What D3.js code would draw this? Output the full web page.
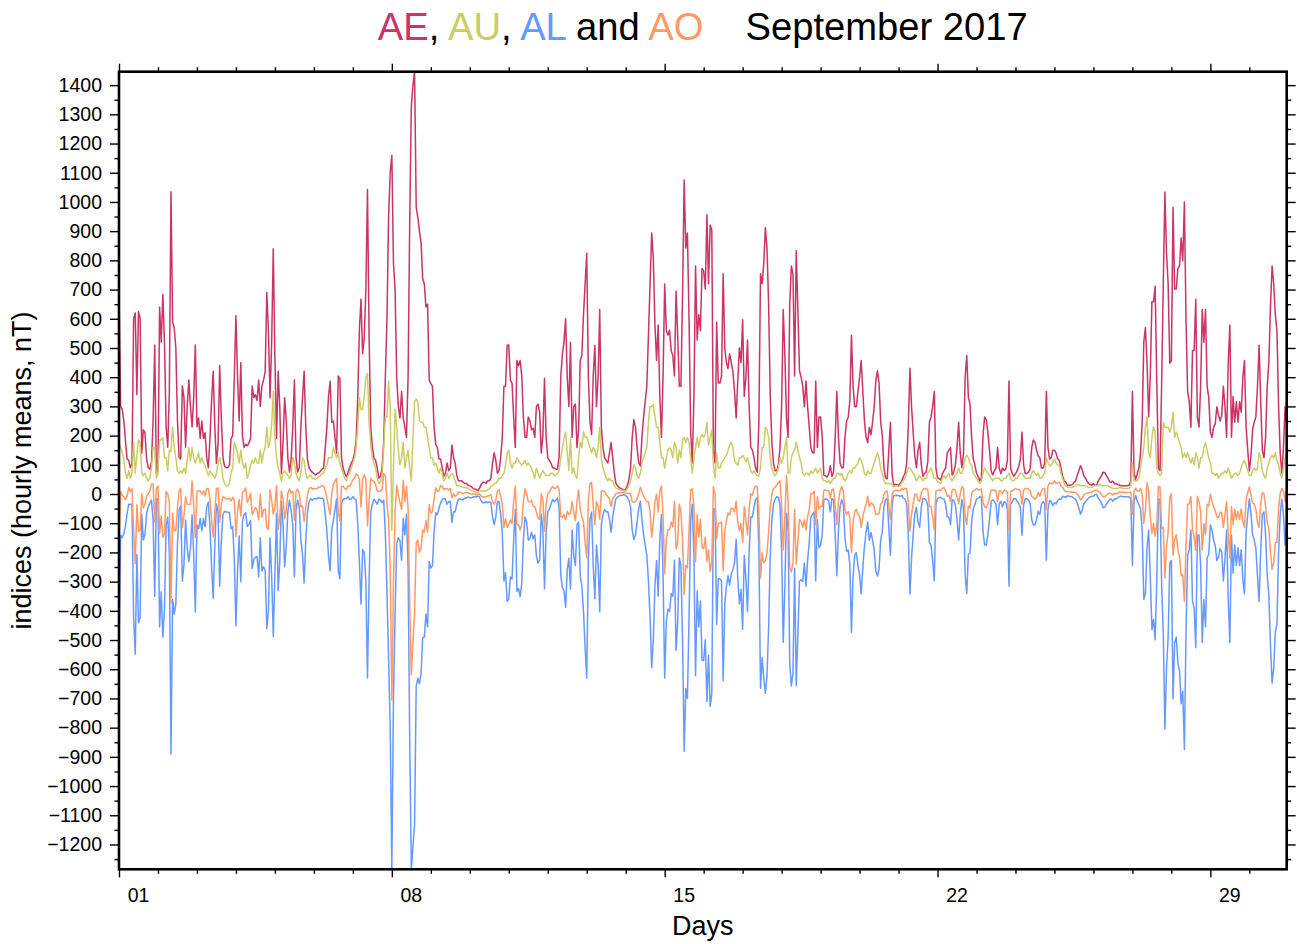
<!DOCTYPE html>
<html>
<head>
<meta charset="utf-8">
<script src="https://cdn.jsdelivr.net/npm/d3@7"></script>
<style>
  body { margin: 0; background: #fff; }
  svg { display: block; font-family: "Liberation Sans", Arial, Helvetica, sans-serif; }
</style>
</head>
<body>
<svg></svg>
<script>
// hourly means, 1 Sept 2017 00h .. 30 Sept 23h, one line per day (nT)
const ae = [
  690,300,290,250,180,120,115,90,105,600,620,340,625,600,140,220,210,120,90,85,110,250,510,70,
  89,640,520,684,520,230,160,350,1035,590,570,500,250,125,120,370,330,160,300,390,300,230,330,510,
  230,260,190,250,190,210,125,90,190,320,420,230,105,170,440,260,125,95,90,90,100,190,200,400,
  610,400,250,450,200,160,170,165,175,190,370,330,340,320,390,300,370,390,420,690,560,330,520,840,
  470,190,420,300,70,175,330,250,120,75,120,230,390,125,75,90,230,330,420,230,120,90,80,75,
  70,65,70,72,78,85,89,159,229,334,387,246,250,194,140,404,396,124,89,70,60,72,90,106,
  115,140,180,330,560,667,480,534,700,1043,544,229,159,124,115,89,54,60,90,180,400,600,950,1100,
  1160,790,700,400,300,260,351,260,230,194,400,930,1330,1400,1446,982,947,900,860,737,719,640,650,390,
  378,369,229,170,160,120,120,90,60,71,106,80,89,168,124,106,63,45,45,45,40,36,36,30,
  28,25,20,17,15,12,20,33,40,40,36,45,45,54,106,141,115,71,80,124,194,369,369,509,
  510,390,380,264,159,457,439,457,404,264,194,194,264,250,220,225,194,299,308,280,140,200,396,194,
  124,115,105,90,89,85,85,130,400,480,520,600,400,300,520,194,299,308,159,220,457,474,614,719,
  824,404,246,203,404,509,299,400,632,229,159,124,115,106,141,176,124,71,36,28,22,19,16,12,
  15,30,50,90,194,255,229,159,106,96,194,264,316,369,544,719,894,807,579,457,579,334,194,404,
  719,561,544,561,491,474,404,694,544,369,369,684,1075,842,894,600,212,106,334,781,527,614,560,772,
  764,702,956,720,921,904,150,106,588,380,380,404,754,500,450,430,480,450,420,351,260,387,500,450,
  597,334,400,527,300,159,150,124,89,75,250,754,720,789,912,842,650,334,176,106,80,80,100,159,
  300,632,474,260,194,650,781,754,404,833,632,422,400,370,299,387,299,229,159,141,141,387,159,264,
  264,194,64,62,58,70,97,60,75,194,351,194,106,90,90,194,250,263,320,544,369,299,299,350,
  400,457,350,250,194,176,229,203,246,299,387,422,380,246,200,90,55,52,150,246,70,30,33,32,
  30,36,45,60,71,106,229,431,300,210,130,90,150,177,100,60,70,75,110,246,264,300,351,89,
  56,52,48,70,80,89,141,150,159,65,75,100,159,246,140,90,140,400,474,330,308,194,120,100,
  71,60,45,55,200,264,255,210,150,80,65,80,89,159,88,70,89,80,85,114,387,89,71,60,
  70,79,95,120,212,100,70,70,75,85,159,185,177,150,130,124,89,89,105,351,159,120,124,150,
  150,140,120,115,89,62,45,40,30,30,30,32,40,45,63,80,97,85,63,55,45,36,32,30,
  36,30,30,45,54,63,75,73,63,54,42,40,44,35,36,32,31,28,29,28,28,28,30,45,
  351,71,50,70,90,140,246,520,570,450,264,404,658,658,711,387,89,80,380,720,1034,824,720,448,
  457,982,702,702,772,781,877,799,1000,600,351,316,229,491,491,667,264,229,369,632,520,632,369,330,
  212,194,229,240,299,270,250,270,369,300,194,450,579,194,334,246,316,246,316,280,400,457,229,150,
  79,130,220,246,264,369,509,316,150,124,194,369,450,640,781,720,614,560,300,140,71,159,299,230
];

const au = [
  177,159,141,115,71,54,80,54,71,177,71,133,185,177,71,63,71,54,45,54,89,159,159,54,
  71,185,185,194,124,124,80,150,145,229,159,124,80,71,80,71,89,71,115,159,115,159,124,106,
  124,141,106,124,106,98,80,63,80,71,63,54,71,106,124,98,54,36,28,28,36,71,89,177,
  159,141,106,150,106,89,106,54,71,98,115,106,124,106,106,150,106,141,159,229,159,180,240,351,
  194,124,89,71,45,71,80,71,63,54,63,124,106,71,54,45,71,124,115,71,54,63,63,54,
  54,50,54,60,63,71,71,89,100,124,124,124,159,141,124,141,106,89,71,54,45,63,71,89,
  106,124,159,229,330,290,290,334,400,413,246,168,124,106,89,54,36,40,60,159,264,264,387,300,
  -125,90,290,230,150,100,124,177,89,124,150,89,45,194,316,325,316,250,246,246,229,229,194,159,
  124,124,98,106,89,71,89,71,45,54,71,54,63,71,63,45,28,28,28,25,22,22,22,20,
  15,12,10,8,5,5,10,10,10,10,10,15,18,25,28,36,36,45,54,54,63,71,100,141,
  150,106,89,106,106,124,115,106,98,106,115,98,106,98,89,71,54,89,71,54,71,80,71,63,
  63,63,71,71,63,63,71,80,124,159,190,212,141,80,194,71,89,63,54,124,177,159,212,194,
  194,177,159,141,159,150,124,159,229,124,89,71,54,45,54,45,45,28,20,18,15,15,12,10,
  10,18,28,45,71,100,89,63,54,71,106,124,141,159,246,299,299,307,264,229,229,177,124,124,
  89,124,150,159,150,124,177,159,106,150,124,185,194,176,194,176,120,71,124,159,194,159,194,203,
  194,203,246,168,194,220,100,54,141,89,89,106,115,124,133,150,168,177,160,115,106,98,124,124,
  133,124,110,124,100,80,71,80,71,62,62,89,159,159,229,220,194,124,89,71,63,71,89,124,
  106,124,159,194,71,71,124,141,150,177,150,124,106,71,63,71,71,63,80,71,80,89,71,80,
  89,54,45,45,40,45,36,45,54,54,71,71,63,71,54,45,54,71,80,71,89,89,98,106,
  124,115,98,71,63,80,71,71,89,106,124,141,124,89,71,45,36,36,36,36,32,25,28,28,
  25,28,40,45,54,71,89,89,80,71,63,45,54,63,54,45,54,54,71,80,89,71,54,54,
  40,40,36,54,63,54,63,71,54,45,54,63,71,89,71,71,89,124,133,124,106,98,71,63,
  54,45,36,45,71,89,80,71,63,54,45,54,54,54,54,45,45,54,54,63,71,54,45,45,
  54,54,63,71,71,63,54,54,54,54,71,80,71,63,71,54,54,63,71,124,106,98,98,110,
  120,106,98,98,71,54,36,28,24,22,22,22,25,28,32,32,28,28,28,28,25,22,22,22,
  28,28,28,30,33,30,28,28,28,28,24,22,19,19,19,20,22,21,20,19,19,19,20,28,
  106,45,45,45,54,89,124,159,229,264,141,124,194,229,212,89,71,63,71,246,229,229,229,212,
  229,281,194,212,194,177,159,124,140,124,141,124,106,124,100,141,124,89,124,124,159,177,150,124,
  106,71,71,63,71,54,63,71,71,80,71,89,71,54,63,71,71,63,71,89,106,115,98,80,
  63,63,80,89,80,89,141,124,80,63,54,89,106,124,133,124,141,115,100,71,54,89,124,140
];

const al = [
  -513,-141,-149,-135,-109,-66,-35,-36,-34,-423,-549,-207,-440,-423,-69,-157,-139,-66,-45,-31,-21,-91,-351,-16,
  -18,-455,-335,-490,-396,-106,-80,-200,-890,-361,-411,-376,-170,-54,-40,-299,-241,-89,-185,-231,-185,-71,-206,-404,
  -106,-119,-84,-126,-84,-112,-45,-27,-110,-249,-357,-176,-34,-64,-316,-162,-71,-59,-62,-62,-64,-119,-111,-223,
  -451,-259,-144,-300,-94,-71,-64,-111,-104,-92,-255,-224,-216,-214,-284,-150,-264,-249,-261,-461,-401,-150,-280,-489,
  -276,-66,-331,-229,-25,-104,-250,-179,-57,-21,-57,-106,-284,-54,-21,-45,-159,-206,-305,-159,-66,-27,-17,-21,
  -16,-15,-16,-12,-15,-14,-18,-70,-129,-210,-263,-122,-91,-53,-16,-263,-290,-35,-18,-16,-15,-9,-19,-17,
  -9,-16,-21,-100,-230,-377,-190,-200,-300,-630,-298,-61,-35,-18,-26,-35,-18,-20,-30,-21,-136,-336,-563,-800,
  -1285,-700,-410,-170,-150,-160,-227,-83,-140,-70,-250,-841,-1285,-1206,-1130,-657,-631,-650,-614,-491,-490,-411,-455,-231,
  -254,-245,-131,-64,-71,-49,-31,-19,-15,-17,-35,-26,-26,-97,-61,-61,-35,-17,-17,-20,-18,-14,-14,-10,
  -13,-13,-10,-9,-10,-7,-10,-23,-30,-30,-26,-30,-27,-29,-78,-105,-79,-26,-26,-70,-131,-298,-269,-368,
  -360,-284,-291,-158,-53,-333,-324,-351,-306,-158,-79,-96,-158,-152,-131,-154,-140,-210,-237,-226,-69,-120,-325,-131,
  -61,-52,-34,-19,-26,-22,-14,-50,-276,-321,-330,-388,-259,-220,-326,-123,-210,-245,-105,-96,-280,-315,-402,-525,
  -630,-227,-87,-62,-245,-359,-175,-241,-403,-105,-70,-53,-61,-61,-87,-131,-79,-43,-16,-10,-7,-4,-4,-2,
  -5,-12,-22,-45,-123,-155,-140,-96,-52,-25,-88,-140,-175,-210,-298,-420,-595,-500,-315,-228,-350,-157,-70,-280,
  -630,-437,-394,-402,-341,-350,-227,-535,-438,-219,-245,-499,-881,-666,-700,-424,-92,-35,-210,-622,-333,-455,-366,-569,
  -570,-499,-710,-552,-727,-684,-50,-52,-447,-290,-290,-298,-639,-376,-317,-280,-312,-273,-260,-236,-155,-289,-376,-326,
  -464,-210,-290,-403,-200,-79,-79,-44,-18,-13,-188,-665,-561,-630,-683,-622,-456,-210,-87,-35,-17,-9,-11,-35,
  -194,-508,-315,-66,-123,-579,-657,-613,-254,-656,-482,-298,-294,-299,-236,-316,-228,-166,-79,-70,-61,-298,-88,-184,
  -175,-140,-19,-17,-18,-25,-61,-15,-21,-140,-280,-123,-43,-19,-36,-149,-196,-192,-240,-473,-280,-210,-201,-244,
  -276,-342,-252,-179,-131,-96,-158,-132,-157,-193,-263,-281,-256,-157,-129,-45,-19,-16,-114,-210,-38,-5,-5,-4,
  -5,-8,-5,-15,-17,-35,-140,-342,-220,-139,-67,-45,-96,-114,-46,-15,-16,-21,-39,-166,-175,-229,-297,-35,
  -16,-12,-12,-16,-17,-35,-78,-79,-105,-20,-21,-37,-88,-157,-69,-19,-51,-276,-341,-206,-202,-96,-49,-37,
  -17,-15,-9,-10,-129,-175,-175,-139,-87,-26,-20,-26,-35,-105,-34,-25,-44,-26,-31,-51,-316,-35,-26,-15,
  -16,-25,-32,-49,-141,-37,-16,-16,-21,-31,-88,-105,-106,-87,-59,-70,-35,-26,-34,-227,-53,-22,-26,-40,
  -30,-34,-22,-17,-18,-8,-9,-12,-6,-8,-8,-10,-15,-17,-31,-48,-69,-57,-35,-27,-20,-14,-10,-8,
  -8,-2,-2,-15,-21,-33,-47,-45,-35,-26,-18,-18,-25,-16,-17,-12,-9,-7,-9,-9,-9,-9,-10,-17,
  -245,-26,-5,-25,-36,-51,-122,-361,-341,-186,-123,-280,-464,-429,-499,-298,-18,-17,-309,-474,-805,-595,-491,-236,
  -228,-701,-508,-490,-578,-604,-718,-675,-875,-476,-210,-192,-123,-367,-391,-526,-140,-140,-245,-508,-361,-455,-219,-206,
  -106,-123,-158,-177,-228,-216,-187,-199,-298,-220,-123,-361,-508,-140,-271,-175,-245,-183,-245,-191,-294,-342,-131,-70,
  -16,-67,-140,-157,-184,-280,-368,-192,-70,-61,-140,-280,-344,-516,-648,-596,-473,-445,-200,-69,-17,-70,-175,-90
];

const ao = [
  -168,9,-4,-10,-19,-6,22,9,18,-123,-239,-37,-128,-123,1,-47,-34,-6,0,11,34,34,-96,19,
  27,-135,-75,-148,-136,9,0,-25,-373,-66,-126,-126,-45,9,20,-114,-76,-9,-35,-36,-35,44,-41,-149,
  9,11,11,-1,11,-7,18,18,-15,-89,-147,-61,19,21,-96,-32,-9,-12,-17,-17,-14,-24,-11,-23,
  -146,-59,-19,-75,6,9,21,-29,-17,3,-70,-59,-46,-54,-89,0,-79,-54,-51,-116,-121,15,-20,-69,
  -41,29,-121,-79,10,-17,-85,-54,3,17,3,9,-89,9,17,0,-44,-41,-95,-44,-6,18,23,17,
  19,18,19,24,24,29,27,10,-15,-43,-70,1,34,44,54,-61,-92,27,27,19,15,27,26,36,
  49,54,69,65,50,-44,50,67,50,-109,-26,54,45,44,32,10,9,10,15,69,64,-36,-88,-250,
  -705,-305,-60,30,0,-30,-52,47,-26,27,-50,-376,-620,-506,-407,-166,-158,-200,-184,-123,-131,-91,-131,-36,
  -65,-61,-17,21,9,11,29,26,15,19,18,14,19,-13,1,-8,-4,6,6,3,2,4,4,5,
  1,0,0,0,-3,-1,0,-7,-10,-10,-8,-8,-5,-2,-25,-35,-22,10,14,-8,-34,-114,-85,-114,
  -105,-89,-101,-26,27,-105,-105,-123,-104,-26,18,1,-26,-27,-21,-42,-43,-61,-83,-86,1,-20,-127,-34,
  1,6,18,26,19,20,28,15,-76,-81,-70,-88,-59,-70,-66,-26,-61,-91,-26,14,-52,-78,-95,-166,
  -218,-25,36,40,-43,-105,-26,-41,-87,10,10,9,-3,-8,-17,-43,-17,-8,2,4,4,6,4,4,
  3,3,3,0,-26,-28,-26,-17,1,23,9,-8,-17,-26,-26,-61,-148,-97,-26,0,-61,10,27,-78,
  -271,-157,-122,-122,-96,-113,-25,-188,-166,-35,-61,-157,-344,-245,-253,-124,14,18,-43,-232,-70,-148,-86,-183,
  -188,-148,-232,-192,-266,-232,25,1,-153,-100,-100,-96,-262,-126,-92,-65,-72,-48,-50,-61,-24,-96,-126,-101,
  -166,-43,-90,-140,-50,1,-4,18,27,25,-63,-288,-201,-236,-227,-201,-131,-43,1,18,23,31,39,45,
  -44,-192,-78,64,-26,-254,-267,-236,-52,-240,-166,-87,-94,-114,-87,-123,-79,-52,1,1,10,-105,-9,-52,
  -43,-43,13,14,11,10,-13,15,17,-43,-105,-26,10,26,9,-52,-71,-60,-80,-201,-96,-61,-52,-69,
  -76,-114,-77,-54,-34,-8,-44,-31,-34,-44,-70,-70,-66,-34,-29,0,9,10,-39,-87,-3,10,12,12,
  10,10,18,15,19,18,-26,-127,-70,-34,-2,0,-21,-26,4,15,19,17,16,-43,-43,-79,-122,10,
  12,14,12,19,23,10,-8,-4,-26,13,17,13,-9,-34,1,26,19,-76,-104,-41,-48,1,11,13,
  19,15,14,18,-29,-43,-48,-34,-12,14,13,14,10,-26,10,10,1,14,12,6,-123,10,10,15,
  19,15,16,11,-35,13,19,19,17,12,-9,-12,-18,-12,6,-8,10,19,19,-52,27,38,36,35,
  45,36,38,41,27,23,14,8,9,7,7,6,5,6,1,-8,-20,-15,-4,1,3,4,6,7,
  10,13,13,8,6,-2,-10,-9,-4,1,3,2,-3,2,1,4,7,7,6,5,5,5,5,6,
  -70,10,20,10,9,19,1,-101,-56,39,9,-78,-135,-100,-144,-105,27,23,-119,-114,-288,-183,-131,-12,
  1,-210,-157,-139,-192,-214,-280,-276,-368,-176,-35,-34,-9,-122,-146,-193,-8,-26,-61,-192,-101,-139,-35,-41,
  0,-26,-44,-57,-79,-81,-62,-64,-114,-70,-26,-136,-219,-43,-104,-52,-87,-60,-87,-51,-94,-114,-17,5,
  24,-2,-30,-34,-52,-96,-114,-34,5,1,-43,-96,-119,-196,-258,-236,-166,-165,-50,1,19,10,-26,25
];

const seriesNames = ["AE", "AU", "AL", "AO"];
const seriesColors = ["#cc3366", "#cccc66", "#6699ff", "#ff9966"];
const dayLabels = ["01", "08", "15", "22", "29"];
const labelledDays = [1, 8, 15, 22, 29];

// page / plot box
const width = 1297;
const height = 944;
const plotLeft = 119;
const plotRight = 1286.7;
const plotTop = 71.7;
const plotBottom = 869.3;

const svg = d3.select("svg").attr("width", width).attr("height", height);
const hoursPerDay = 24;
const nDays = ae.length / hoursPerDay;

let xScale;
let yScale;

const createScales = () => {
  xScale = d3.scaleLinear().domain([0, ae.length - 1]).range([plotLeft, plotRight]);
  const all = ae.concat(au, al, ao);
  yScale = d3.scaleLinear().domain(d3.extent(all)).range([plotBottom, plotTop]);
};

const drawAxes = () => {
  const y0 = Math.ceil(yScale.domain()[0] / 50) * 50;
  const y1 = Math.floor(yScale.domain()[1] / 50) * 50;
  const yMajor = d3.range(y0, y1 + 1, 50).filter((v) => v % 100 === 0);
  const yMinor = d3.range(y0, y1 + 1, 50).filter((v) => v % 100 !== 0);

  const dayStarts = d3.range(0, nDays).map((d) => d * hoursPerDay);
  const weekStarts = labelledDays.map((d) => (d - 1) * hoursPerDay);
  const dayMinor = dayStarts.filter((h) => !weekStarts.includes(h));

  const style = (g) => {
    g.select(".domain").remove();
    g.attr("font-family", null);
    g.selectAll("line").attr("stroke", "#000").attr("stroke-width", 1.4);
    g.selectAll("text").attr("fill", "#000").attr("font-size", 19.5);
  };

  // left
  svg.append("g").attr("transform", "translate(" + plotLeft + ",0)")
    .call(d3.axisLeft(yScale).tickValues(yMajor).tickSize(9).tickPadding(8).tickFormat(d3.format("d")))
    .call(style);
  svg.append("g").attr("transform", "translate(" + plotLeft + ",0)")
    .call(d3.axisLeft(yScale).tickValues(yMinor).tickSize(4.5).tickFormat(""))
    .call(style);
  // right
  svg.append("g").attr("transform", "translate(" + plotRight + ",0)")
    .call(d3.axisRight(yScale).tickValues(yMajor).tickSize(9).tickFormat(""))
    .call(style);
  svg.append("g").attr("transform", "translate(" + plotRight + ",0)")
    .call(d3.axisRight(yScale).tickValues(yMinor).tickSize(4.5).tickFormat(""))
    .call(style);
  // bottom + top
  [[d3.axisBottom, plotBottom], [d3.axisTop, plotTop]].forEach(([ax, pos]) => {
    svg.append("g").attr("transform", "translate(0," + pos + ")")
      .call(ax(xScale).tickValues(weekStarts).tickSize(8).tickFormat(""))
      .call(style);
    svg.append("g").attr("transform", "translate(0," + pos + ")")
      .call(ax(xScale).tickValues(dayMinor).tickSize(4.5).tickFormat(""))
      .call(style);
  });

  // day labels sit in the middle of their day
  svg.append("g")
    .selectAll("text")
    .data(labelledDays)
    .enter()
    .append("text")
    .attr("x", (d) => xScale((d - 1) * hoursPerDay + 12))
    .attr("y", 902)
    .attr("text-anchor", "middle")
    .attr("font-size", 19.5)
    .text((d, i) => dayLabels[i]);
};

const drawLines = () => {
  const data = [ae, au, al, ao];
  const line = d3.line()
    .x((d, i) => xScale(i))
    .y((d) => yScale(d));

  svg.append("g")
    .selectAll("path")
    .data(data)
    .enter()
    .append("path")
    .attr("d", line)
    .attr("fill", "none")
    .attr("stroke", (d, i) => seriesColors[i])
    .attr("stroke-width", 1.5)
    .attr("stroke-linejoin", "round");
};

const drawFrame = () => {
  svg.append("rect")
    .attr("x", plotLeft)
    .attr("y", plotTop)
    .attr("width", plotRight - plotLeft)
    .attr("height", plotBottom - plotTop)
    .attr("fill", "none")
    .attr("stroke", "#000")
    .attr("stroke-width", 2.6);
};

const drawTitles = () => {
  const title = svg.append("text")
    .attr("x", (plotLeft + plotRight) / 2)
    .attr("y", 40)
    .attr("text-anchor", "middle")
    .attr("font-size", 38.2)
    .style("white-space", "pre");
  const parts = [
    [seriesNames[0], seriesColors[0]], [", ", "#000"],
    [seriesNames[1], seriesColors[1]], [", ", "#000"],
    [seriesNames[2], seriesColors[2]], [" and ", "#000"],
    [seriesNames[3], seriesColors[3]]
  ];
  parts.forEach(([t, c]) => title.append("tspan").attr("fill", c).text(t));
  title.append("tspan").attr("dx", 42).attr("fill", "#000").text("September 2017");

  svg.append("text")
    .attr("x", (plotLeft + plotRight) / 2)
    .attr("y", 935)
    .attr("text-anchor", "middle")
    .attr("font-size", 27)
    .text("Days");

  svg.append("text")
    .attr("transform", "translate(31," + (plotTop + plotBottom) / 2 + ") rotate(-90)")
    .attr("text-anchor", "middle")
    .attr("font-size", 27)
    .text("indices (hourly means, nT)");
};

createScales();
drawLines();
drawFrame();
drawAxes();
drawTitles();
</script>
</body>
</html>
